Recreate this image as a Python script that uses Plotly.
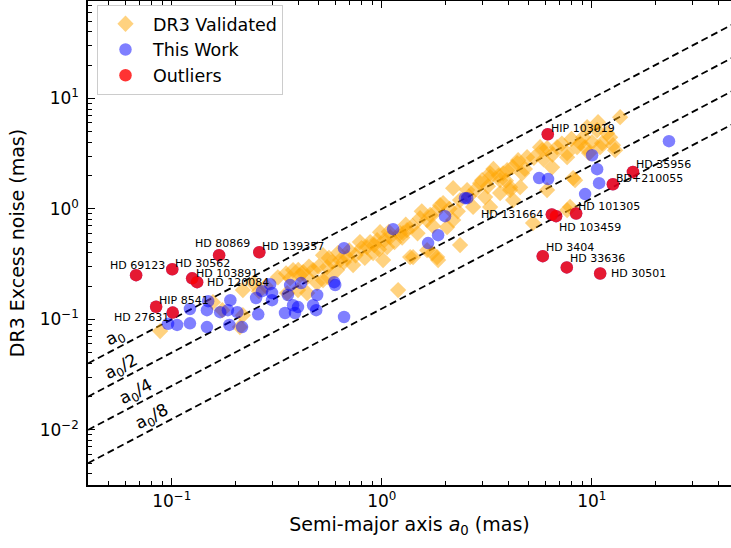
import numpy as np
import plotly.graph_objects as go

# ---------------- data (mas) ----------------
dr3_a0 = [0.088, 0.157, 0.174, 0.211, 0.218, 0.218, 0.244, 0.378, 0.408, 0.354,
          0.422, 0.471, 0.525, 0.580, 0.549, 0.633, 0.684, 0.730, 0.787, 0.851,
          0.909, 0.950, 0.981, 1.060, 1.014, 1.096, 1.222, 1.319, 1.196, 1.364,
          1.521, 1.643, 1.794, 1.895, 2.046, 2.186, 2.359, 2.186, 2.359, 2.721,
          2.938, 1.834, 1.643, 0.441, 0.492, 0.525, 0.399, 0.555, 0.441, 0.612,
          0.366, 1.409, 1.854, 1.737, 1.262, 1.958, 2.548, 3.004, 3.280, 3.659,
          4.083, 3.952, 4.457, 4.918, 4.657, 4.220, 3.104, 3.280, 5.250, 5.671,
          6.124, 6.470, 7.627, 8.147, 7.880, 8.792, 9.500, 10.03, 10.71, 11.83,
          12.62, 13.64, 10.95, 9.29, 12.22, 11.19, 10.60, 9.093, 8.51, 7.627,
          6.833, 5.797, 4.409, 3.781, 3.280, 4.083, 3.659, 4.557, 6.124, 8.325,
          7.627, 12.91,
          0.50, 0.56, 0.62, 0.66, 0.70, 0.75, 0.80, 0.83, 0.88, 0.92,
          0.97, 1.03, 1.08, 1.15, 1.25, 1.30, 1.40, 1.48, 1.55, 1.70,
          1.75, 2.10, 2.30, 2.60, 2.80, 3.20, 3.40, 3.60, 3.90, 4.20,
          4.80, 5.30, 5.90, 6.50, 7.20, 8.00, 9.70, 0.45, 0.40, 0.35,
          0.32, 0.28, 0.26]
dr3_noise = [0.0783, 0.143, 0.121, 0.085, 0.184, 0.109, 0.213, 0.279, 0.251, 0.173,
             0.268, 0.279, 0.381, 0.330, 0.297, 0.344, 0.366, 0.310, 0.500, 0.451,
             0.398, 0.521, 0.615, 0.451, 0.344, 0.554, 0.603, 0.641, 0.184, 0.366,
             0.824, 0.791, 0.933, 1.08, 0.683, 0.791, 0.470, 1.54, 1.20, 1.04,
             1.71, 0.366, 0.423, 0.173, 0.213, 0.226, 0.184, 0.241, 0.241, 0.279,
             0.236, 0.366, 0.344, 0.398, 0.603, 1.13, 1.48, 1.82, 2.10, 1.82,
             1.48, 2.24, 2.76, 2.94, 2.10, 1.20, 1.28, 1.04, 0.743, 3.62,
             3.54, 2.38, 2.94, 1.90, 1.04, 3.93, 5.49, 4.01, 6.09, 4.84,
             3.77, 6.76, 3.62, 3.62, 4.45, 3.93, 5.15, 4.45, 3.62, 3.19,
             3.62, 3.40, 2.59, 2.10, 1.94, 1.57, 1.39, 1.57, 1.48, 1.82,
             0.973, 3.40,
             0.30, 0.36, 0.40, 0.33, 0.42, 0.38, 0.44, 0.36, 0.50, 0.47,
             0.43, 0.52, 0.62, 0.50, 0.55, 0.72, 0.70, 0.60, 0.95, 0.88,
             0.70, 1.00, 0.95, 1.30, 1.50, 1.60, 2.30, 2.00, 1.80, 2.40,
             2.30, 2.90, 2.80, 3.10, 3.90, 4.30, 3.20, 0.30, 0.28, 0.26,
             0.24, 0.20, 0.18]

work_a0 = [0.096, 0.106, 0.122, 0.122, 0.147, 0.149, 0.190, 0.170, 0.185, 0.205,
           0.147, 0.188, 0.216, 0.252, 0.269, 0.294, 0.300, 0.300, 0.366, 0.357,
           0.413, 0.378, 0.399, 0.386, 0.346, 0.258, 0.471, 0.487, 0.492, 0.593,
           0.600, 0.661, 0.661, 1.132, 2.00, 1.854, 1.661, 2.49, 2.55, 5.61,
           6.19, 10.03, 10.6, 10.83, 9.29, 23.3]
work_noise = [0.091, 0.089, 0.092, 0.124, 0.121, 0.146, 0.149, 0.116, 0.121, 0.116,
              0.085, 0.089, 0.085, 0.156, 0.180, 0.208, 0.173, 0.149, 0.204, 0.166,
              0.213, 0.134, 0.129, 0.114, 0.114, 0.111, 0.134, 0.121, 0.166, 0.217,
              0.204, 0.105, 0.441, 0.655, 0.859, 0.578, 0.490, 1.25, 1.25, 1.90,
              1.86, 3.06, 2.29, 1.71, 1.36, 4.10]

out_names = ["HD 69123", "HD 30562", "HD 80869", "HD 139357", "HD 103891",
             "HD 120084", "HIP 8541", "HD 27631", "HIP 103019", "HD 35956",
             "BD+210055", "HD 101305", "HD 131664", "HD 103459", "HD 3404",
             "HD 33636", "HD 30501"]
out_a0 = [0.0676, 0.1005, 0.168, 0.261, 0.125, 0.132, 0.0842, 0.101, 6.17, 15.7,
          12.6, 8.42, 6.45, 6.76, 5.84, 7.60, 10.96]
out_noise = [0.251, 0.284, 0.381, 0.405, 0.235, 0.217, 0.130, 0.115, 4.74, 2.16,
             1.67, 0.908, 0.89, 0.859, 0.373, 0.295, 0.26]

ref_fractions = [1, 2, 4, 8]
ref_labels = ["a<sub>0</sub>", "a<sub>0</sub>/2", "a<sub>0</sub>/4", "a<sub>0</sub>/8"]

# ---------------- styling / layout constants ----------------
FONT = "DejaVu Sans"
XR = (0.0399, 46.0)
YR = (10 ** -2.5, 10 ** 1.882)

# label placement: (xanchor, xshift, yshift) per outlier
label_pos = [("left", -28, 10), ("left", 1, 6), ("left", -26, 12), ("left", 1, 6),
             ("left", 2, 5), ("left", 8, 0), ("left", 1, 6), ("right", -2, -5),
             ("left", 1, 6), ("left", 1, 7), ("left", 1, 6), ("left", 0, 7),
             ("right", -7, 0), ("left", 1, -11), ("left", 1, 9), ("left", 1, 9),
             ("left", 9, 0)]
ref_label_x = [0.0537, 0.0574, 0.0676, 0.0805]

fig = go.Figure()

# reference lines
xl = np.array([XR[0] * 0.9, XR[1] * 1.2])
for k in ref_fractions:
    fig.add_trace(go.Scatter(x=xl, y=xl / k, mode="lines",
                             line=dict(color="black", width=1.8, dash="7px,4px"),
                             showlegend=False, hoverinfo="skip"))

fig.add_trace(go.Scatter(x=dr3_a0, y=dr3_noise, mode="markers", name="DR3 Validated",
                         marker=dict(symbol="diamond", size=12.5, color="orange",
                                     opacity=0.5, line=dict(width=0))))
fig.add_trace(go.Scatter(x=work_a0 + out_a0, y=work_noise + out_noise, mode="markers",
                         name="This Work",
                         marker=dict(symbol="circle", size=12.5, color="blue",
                                     opacity=0.5, line=dict(width=0))))
fig.add_trace(go.Scatter(x=out_a0, y=out_noise, mode="markers", name="Outliers",
                         marker=dict(symbol="circle", size=12.5, color="red",
                                     opacity=0.8, line=dict(width=0))))

ann = []
for name, xa, ya, (xanc, xs, ys) in zip(out_names, out_a0, out_noise, label_pos):
    ann.append(dict(x=np.log10(xa), y=np.log10(ya), text=name, showarrow=False,
                    xanchor=xanc, yanchor="middle", xshift=xs, yshift=ys,
                    font=dict(family=FONT, size=11, color="black")))
for k, lab, lx in zip(ref_fractions, ref_labels, ref_label_x):
    ann.append(dict(x=np.log10(lx), y=np.log10(lx / k), text=lab, showarrow=False,
                    xanchor="center", yanchor="middle", yshift=12, textangle=-27.7,
                    font=dict(family=FONT, size=17, color="black")))


def minor_vals(lo, hi):
    vals = []
    for e in range(-4, 3):
        for m in range(2, 10):
            v = m * 10.0 ** e
            if lo <= v <= hi:
                vals.append(v)
    return vals


def sup(e):
    return "10<sup>" + ("\u2212" + str(-e) if e < 0 else str(e)) + "</sup>"


xt = [0.1, 1, 10]
yt = [0.01, 0.1, 1, 10]

axis_common = dict(type="log", showgrid=False, zeroline=False, showline=True,
                   linecolor="black", linewidth=1.5, ticks="inside", ticklen=7,
                   tickwidth=1.2, tickcolor="black", automargin=False,
                   tickfont=dict(family=FONT, size=17, color="black"))

fig.update_layout(
    width=731, height=548,
    margin=dict(l=88, r=0, t=1, b=63),
    paper_bgcolor="white", plot_bgcolor="white",
    font=dict(family=FONT, color="black"),
    xaxis=dict(axis_common, range=[np.log10(XR[0]), np.log10(XR[1])],
               tickvals=xt, ticktext=[sup(int(round(np.log10(v)))) for v in xt],
               mirror="ticks",
               minor=dict(tickvals=minor_vals(*XR), ticks="inside", ticklen=4,
                          tickcolor="black", tickwidth=1),
               title=dict(text="Semi-major axis <i>a</i><sub>0</sub> (mas)",
                          font=dict(family=FONT, size=19), standoff=8)),
    yaxis=dict(axis_common, range=[np.log10(YR[0]), np.log10(YR[1])],
               tickvals=yt, ticktext=[sup(int(round(np.log10(v)))) for v in yt],
               minor=dict(tickvals=minor_vals(*YR), ticks="inside", ticklen=4,
                          tickcolor="black", tickwidth=1),
               ticklabelstandoff=4,
               title=dict(text="DR3 Excess noise (mas)",
                          font=dict(family=FONT, size=19), standoff=10)),
    legend=dict(x=0.014, y=0.992, xanchor="left", yanchor="top",
                bgcolor="white", bordercolor="#cccccc", borderwidth=1,
                font=dict(family=FONT, size=17.5, color="black"),
                itemwidth=45, tracegroupgap=0),
    annotations=ann,
)

fig.write_html("out.html", config={"displayModeBar": False},
               post_script="document.body.style.margin='0px';")
